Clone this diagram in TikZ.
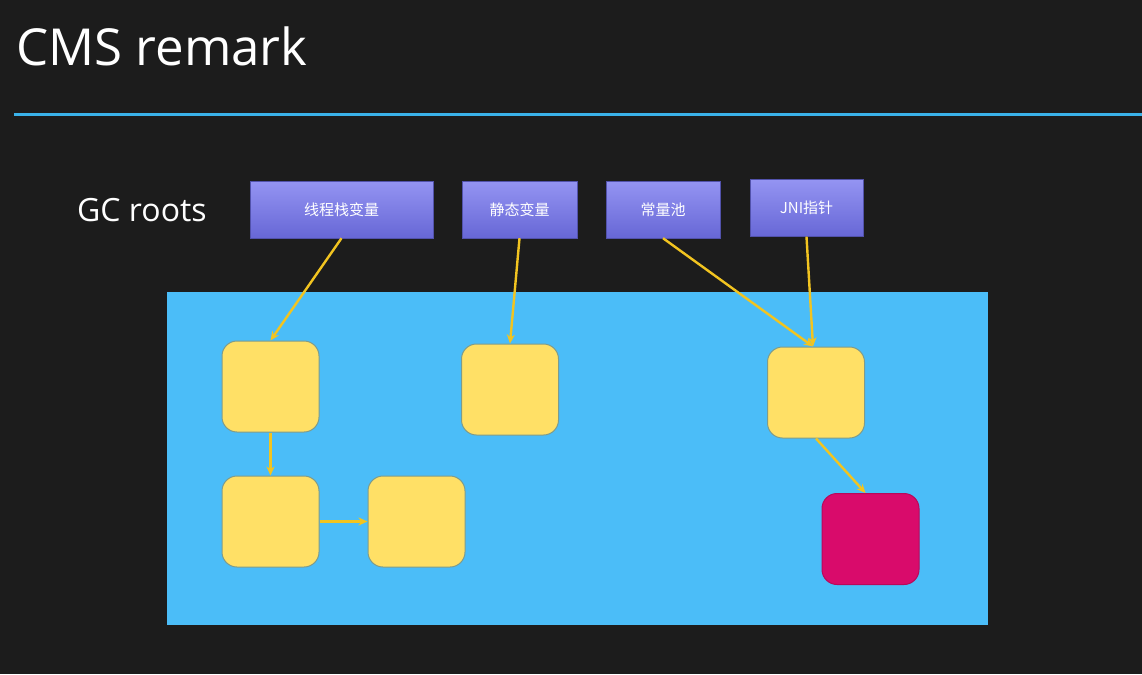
\documentclass[tikz,border=0pt]{standalone}
\usepackage{fontspec}
\setmainfont{Open Sans}
\newfontfamily\cjk{Noto Sans CJK SC}
\usetikzlibrary{arrows.meta,shadings}
\definecolor{bgdark}{HTML}{1C1C1C}
\definecolor{lineblue}{HTML}{3AB2EA}
\definecolor{panelblue}{HTML}{4BBDF8}
\definecolor{rootA}{HTML}{9494F2}
\definecolor{rootB}{HTML}{6767D6}
\definecolor{objfill}{HTML}{FFE066}
\definecolor{objedge}{HTML}{7E9C8C}
\definecolor{garbage}{HTML}{D90B6B}
\definecolor{arrowc}{HTML}{F2C420}
\tikzset{
  rootbox/.style={rectangle, inner sep=0pt, minimum height=57pt, top color=rootA, bottom color=rootB, draw=rootB!80!black, line width=0.4pt, text=white, font=\cjk\fontsize{15}{17}\selectfont},
  objbox/.style={rectangle, rounded corners=15pt, inner sep=0pt, minimum width=97pt, minimum height=91pt, fill=objfill, draw=objedge, line width=1pt},
  garbox/.style={objbox, fill=garbage, draw=garbage!85!black},
  ref/.style={draw=arrowc, line width=2.4pt, -{Stealth[length=9pt,width=8pt]}}
}
\begin{document}
\begin{tikzpicture}[x=1pt,y=-1pt]
\fill[bgdark] (0,0) rectangle (1142,674);
\useasboundingbox (0,0) rectangle (1142,674);
\node[anchor=base west, text=white, font=\fontsize{51}{54}\selectfont, inner sep=0pt] (title) at (16,66) {CMS remark};
\draw[lineblue, line width=3pt] (14,115) -- (1142,115);
\node[anchor=west, text=white, font=\fontsize{32}{36}\selectfont, inner sep=0pt] (gc) at (77,210) {GC roots};
\node[rootbox, minimum width=183pt] (r1) at (341.5,209.5) {线程栈变量};
\node[rootbox, minimum width=115pt] (r2) at (519.5,209.5) {静态变量};
\node[rootbox, minimum width=114pt] (r3) at (663,209.5) {常量池};
\node[rootbox, minimum width=113pt] (r4) at (806.5,208) {JNI指针};
\fill[panelblue] (167,292) rectangle (988,625);
\node[objbox] (a) at (270.5,386.5) {};
\node[objbox] (b) at (510,389.5) {};
\node[objbox] (c) at (816,392.5) {};
\node[objbox] (d) at (270.5,521.5) {};
\node[objbox] (e) at (416.5,521.5) {};
\node[garbox] (f) at (870.5,539) {};
\draw[ref] (r1.south) -- (a.north);
\draw[ref] (r2.south) -- (b.north);
\draw[ref] (r3.south) -- ([xshift=-3pt]c.north);
\draw[ref] (r4.south) -- ([xshift=-3pt]c.north);
\draw[ref] (a.south) -- (d.north);
\draw[ref] (d.east) -- (e.west);
\draw[ref] (c.south) -- ([xshift=-5pt]f.north);
\end{tikzpicture}
\end{document}
